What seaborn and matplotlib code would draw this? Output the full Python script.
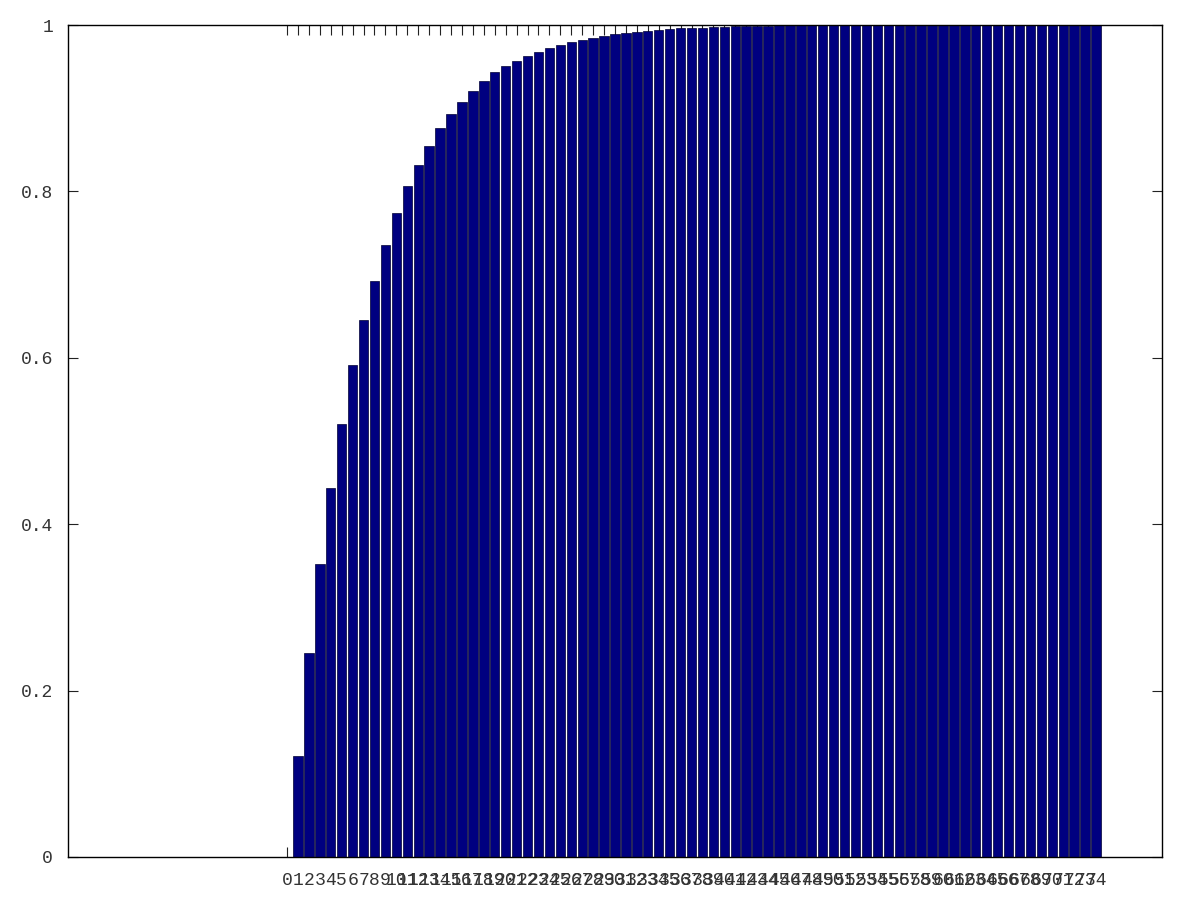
import numpy as np
import matplotlib
matplotlib.use('Agg')
import matplotlib.pyplot as plt
import seaborn as sns

# categories (0..74) and cumulative values
categories = list(range(75))
values = [0.0, 0.121, 0.245, 0.352, 0.444, 0.521, 0.591, 0.645, 0.692, 0.735,
          0.774, 0.807, 0.832, 0.855, 0.876, 0.893, 0.907, 0.921, 0.933, 0.943,
          0.951, 0.957, 0.963, 0.968, 0.972, 0.976, 0.979, 0.982, 0.984, 0.987,
          0.989, 0.990, 0.992, 0.993, 0.994, 0.995, 0.996, 0.997, 0.997, 0.998,
          0.998, 0.9985, 0.999, 0.999, 0.9993, 0.9995, 0.9996, 0.9997, 0.9998, 0.9998,
          0.9999, 1.0, 1.0, 1.0, 1.0, 1.0, 1.0, 1.0, 1.0, 1.0,
          1.0, 1.0, 1.0, 1.0, 1.0, 1.0, 1.0, 1.0, 1.0, 1.0,
          1.0, 1.0, 1.0, 1.0, 1.0]
yticks = [0, 0.2, 0.4, 0.6, 0.8, 1]
ytick_labels = ["0", "0.2", "0.4", "0.6", "0.8", "1"]

sns.set_style("ticks")
plt.rcParams['font.family'] = ['Liberation Mono', 'DejaVu Sans Mono']

fig = plt.figure(figsize=(12, 9), dpi=100)
ax = fig.add_axes([0.057, 0.0478, 0.911, 0.9244])

sns.barplot(x=categories, y=values, color='#000080', saturation=1,
            width=0.86, edgecolor='#000033', linewidth=0.5, ax=ax)

ax.set_xlim(-20, 80)
ax.set_ylim(0, 1)
ax.set_yticks(yticks)
ax.set_yticklabels(ytick_labels)
ax.set_xticks(range(len(categories)))
ax.set_xticklabels([str(c) for c in categories])
ax.set_axisbelow(True)  # ticks hidden behind the bars

ax.tick_params(axis='both', direction='in', length=7, width=0.8,
               labelsize=13, labelcolor='#333333', color='#222222', pad=11)
ax.tick_params(top=True, right=True)
for s in ax.spines.values():
    s.set_visible(True)
    s.set_linewidth(1.0)
    s.set_color('black')

fig.savefig('out.png', dpi=100)
